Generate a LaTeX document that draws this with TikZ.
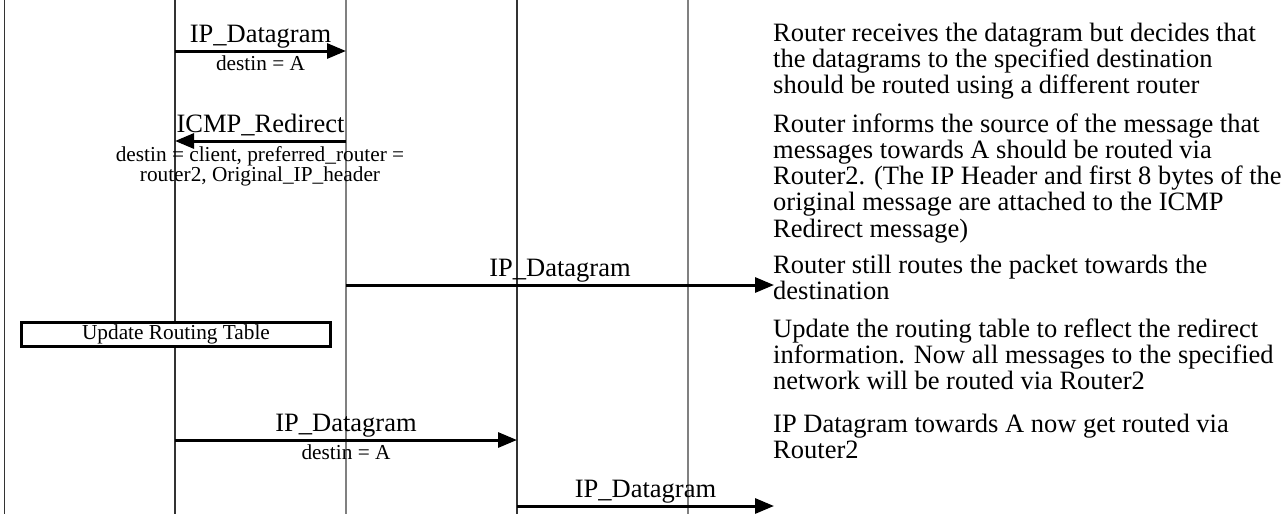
\documentclass[tikz,border=0pt]{standalone}
\usepackage{fontspec}
\setmainfont{Liberation Serif}
\usetikzlibrary{arrows.meta}
\newcommand\bigfnt{\fontsize{26.5}{26.3}\selectfont}
\newcommand\smallfnt{\fontsize{21.3}{20}\selectfont}
\newcommand\remlines[1]{\parbox[t]{515pt}{\raggedright\bigfnt #1}}
\newcommand\sublines[1]{\parbox[t]{330pt}{\centering\smallfnt #1}}
\begin{document}
\begin{tikzpicture}[x=1pt,y=-1pt,
  lifeline/.style={line width=1.3pt, draw=black!80},
  lifegray/.style={line width=1.3pt, draw=black!50},
  msg/.style={line width=3pt, -{Triangle[length=19pt,width=15pt]}},
  msglabel/.style={anchor=base, inner sep=0pt, font=\bigfnt},
  msgsub/.style={anchor=base, inner sep=0pt, font=\smallfnt},
  remark/.style={anchor=base west, inner sep=0pt},
  actionbox/.style={draw=black, line width=2.6pt, fill=white, minimum width=309pt,
    minimum height=24pt, inner sep=0pt, font=\smallfnt}]
\useasboundingbox (0,0) rectangle (1287,514);

% lifelines
\coordinate (LAtop) at (4.7,0);  \coordinate (LAbot) at (4.7,514);
\coordinate (LBtop) at (175,0);  \coordinate (LBbot) at (175,514);
\coordinate (LCtop) at (346,0);  \coordinate (LCbot) at (346,514);
\coordinate (LDtop) at (517,0);  \coordinate (LDbot) at (517,514);
\coordinate (LEtop) at (688,0);  \coordinate (LEbot) at (688,514);
\draw[lifeline] (LAtop) -- (LAbot);
\draw[lifeline] (LBtop) -- (LBbot);
\draw[lifegray] (LCtop) -- (LCbot);
\draw[lifeline] (LDtop) -- (LDbot);
\draw[lifegray] (LEtop) -- (LEbot);

% message end points
\coordinate (m1s) at (175,51);  \coordinate (m1e) at (346,51);
\coordinate (m2s) at (346,141); \coordinate (m2e) at (175,141);
\coordinate (m3s) at (346,285); \coordinate (m3e) at (774,285);
\coordinate (m4s) at (175,440); \coordinate (m4e) at (517,440);
\coordinate (m5s) at (517,506); \coordinate (m5e) at (774,506);

\draw[msg] (m1s) -- (m1e);
\draw[msg] (m2s) -- (m2e);
\draw[msg] (m3s) -- (m3e);
\draw[msg] (m4s) -- (m4e);
\draw[msg] (m5s) -- (m5e);

% message labels
\node[msglabel] (l1) at (260.5,42) {IP\_Datagram};
\node[msgsub]   (s1) at (260.5,70) {destin = A};
\node[msglabel] (l2) at (260.5,132) {ICMP\_Redirect};
\node[msgsub]   (s2) at (260,161) {\sublines{destin = client, preferred\_router =\\ router2, Original\_IP\_header}};
\node[msglabel] (l3) at (560,276) {IP\_Datagram};
\node[msglabel] (l4) at (346,431) {IP\_Datagram};
\node[msgsub]   (s4) at (346,459) {destin = A};
\node[msglabel] (l5) at (645.5,497) {IP\_Datagram};

% action box
\node[actionbox] (upd) at (176,334.5) {Update Routing Table};

% remarks
\node[remark] (r1) at (773,41) {\remlines{Router receives the datagram but decides that\\ the datagrams to the specified destination\\ should be routed using a different router}};
\node[remark] (r2) at (773,132) {\remlines{Router informs the source of the message that\\ messages towards A should be routed via\\ Router2. (The IP Header and first 8 bytes of the\\ original message are attached to the ICMP\\ Redirect message)}};
\node[remark] (r3) at (773,273.5) {\remlines{Router still routes the packet towards the\\ destination}};
\node[remark] (r4) at (773,337) {\remlines{Update the routing table to reflect the redirect\\ information. Now all messages to the specified\\ network will be routed via Router2}};
\node[remark] (r5) at (773,432) {\remlines{IP Datagram towards A now get routed via\\ Router2}};
\end{tikzpicture}
\end{document}
